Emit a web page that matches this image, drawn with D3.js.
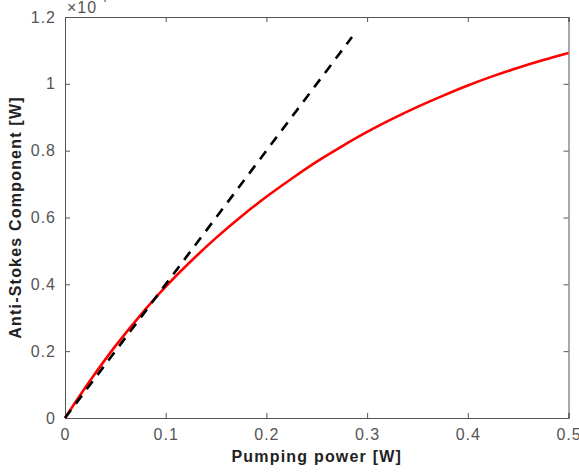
<!DOCTYPE html>
<html>
<head>
<meta charset="utf-8">
<script src="https://d3js.org/d3.v7.min.js"></script>
<style>
  body { margin: 0; background: #fff; }
  text { font-family: "Liberation Sans", Arial, sans-serif; }
</style>
</head>
<body>
<script>
var width = 579,
    height = 472;

// pumping power [W] and anti-Stokes power (x1e-7 W)
var powerX = [0, 0.025, 0.05, 0.075, 0.1, 0.125, 0.15, 0.175, 0.2, 0.225, 0.25,
              0.275, 0.3, 0.325, 0.35, 0.375, 0.4, 0.425, 0.45, 0.475, 0.5];
var antiStokes = [0, 0.112, 0.215, 0.308, 0.393, 0.469, 0.539, 0.603, 0.662, 0.716, 0.767,
                  0.813, 0.856, 0.895, 0.931, 0.964, 0.995, 1.023, 1.048, 1.071, 1.092];
// linear (small signal) approximation, dashed
var linearX = [0, 0.285];
var linearY = [0, 1.14];

var xTicks = [0, 0.1, 0.2, 0.3, 0.4, 0.5];
var yTicks = [0, 0.2, 0.4, 0.6, 0.8, 1, 1.2];

var margin = {top: 17, right: 10, bottom: 54, left: 65};

var svg = d3.select("body")
  .append("svg")
  .attr("width", width)
  .attr("height", height);

var x = d3.scaleLinear()
  .domain([0, 0.5])
  .range([margin.left, width - margin.right - 0.5]);

var y = d3.scaleLinear()
  .domain([0, 1.2])
  .range([height - margin.bottom, margin.top]);

var axisColor = "#555";
var tickLen = 5;

function styleAxis(g) {
  g.select(".domain").attr("stroke", axisColor).attr("stroke-width", 1);
  g.selectAll(".tick line").attr("stroke", axisColor);
  g.selectAll(".tick text")
    .attr("fill", "#555")
    .attr("font-size", 16)
    .attr("letter-spacing", 1);
}

// bottom + top
svg.append("g")
  .attr("transform", "translate(0," + y(0) + ")")
  .call(d3.axisBottom(x).tickValues(xTicks).tickSize(-tickLen).tickPadding(11)
    .tickFormat(function(d) { return d === 0 ? "0" : d3.format(".1f")(d); }))
  .call(styleAxis);

svg.append("g")
  .attr("transform", "translate(0," + y(1.2) + ")")
  .call(d3.axisTop(x).tickValues(xTicks).tickSize(-tickLen).tickFormat(""))
  .call(styleAxis);

// left + right
svg.append("g")
  .attr("transform", "translate(" + x(0) + ",0)")
  .call(d3.axisLeft(y).tickValues(yTicks).tickSize(-tickLen).tickPadding(9)
    .tickFormat(function(d) { return d === 0 || d === 1 ? String(d) : d3.format(".1f")(d); }))
  .call(styleAxis);

svg.append("g")
  .attr("transform", "translate(" + x(0.5) + ",0)")
  .call(d3.axisRight(y).tickValues(yTicks).tickSize(-tickLen).tickFormat(""))
  .call(styleAxis);

// exponent label, cut at the top as in the original
var expo = svg.append("text")
  .attr("x", x(0) + 2)
  .attr("y", 12.5)
  .attr("fill", "#555")
  .attr("font-size", 16)
  .attr("letter-spacing", 1);
expo.append("tspan").text("\u00d710");
expo.append("tspan").attr("dy", -10.5).attr("font-size", 12).text("-7");

// curves
var lineGen = d3.line()
  .x(function(d) { return x(d[0]); })
  .y(function(d) { return y(d[1]); })
  .curve(d3.curveMonotoneX);

svg.append("path")
  .datum(powerX.map(function(v, i) { return [v, antiStokes[i]]; }))
  .attr("fill", "none")
  .attr("stroke", "#ff0000")
  .attr("stroke-width", 2.6)
  .attr("d", lineGen);

svg.append("path")
  .datum(linearX.map(function(v, i) { return [v, linearY[i]]; }))
  .attr("fill", "none")
  .attr("stroke", "#000")
  .attr("stroke-width", 2.6)
  .attr("stroke-dasharray", "10,8")
  .attr("d", lineGen);

// axis labels
svg.append("text")
  .attr("x", (x(0) + x(0.5)) / 2)
  .attr("y", 462)
  .attr("text-anchor", "middle")
  .attr("font-size", 16)
  .attr("font-weight", "bold")
  .attr("letter-spacing", 1.2)
  .attr("fill", "#222")
  .text("Pumping power [W]");

svg.append("text")
  .attr("transform", "translate(21," + (y(0.6)) + ") rotate(-90)")
  .attr("text-anchor", "middle")
  .attr("font-size", 16)
  .attr("font-weight", "bold")
  .attr("letter-spacing", 1.2)
  .attr("fill", "#222")
  .text("Anti-Stokes Component [W]");
</script>
</body>
</html>
